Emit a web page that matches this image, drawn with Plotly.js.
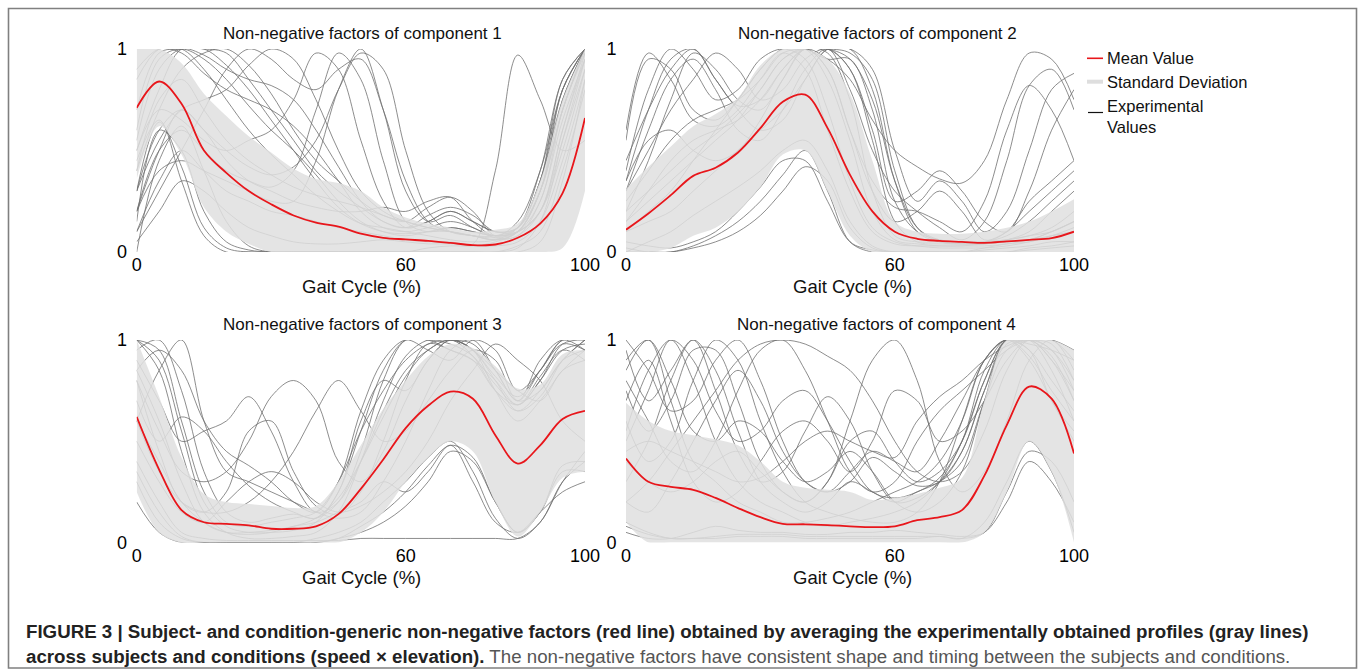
<!DOCTYPE html>
<html>
<head>
<meta charset="utf-8">
<script src="https://cdn.plot.ly/plotly-3.0.1.min.js"></script>
<style>
html,body{margin:0;padding:0;background:#fff;}
#chart{width:1360px;height:672px;}
</style>
</head>
<body>
<div id="chart"></div>
<script>
// ---------------- DATA ----------------
const gaitX = [0,5,10,15,20,25,30,35,40,45,50,55,60,65,70,75,80,85,90,95,100];
const xTicks = [0,60,100];
const yTicks = [0,1];
const panelTitles = ["Non-negative factors of component 1","Non-negative factors of component 2","Non-negative factors of component 3","Non-negative factors of component 4"];
const xAxisTitle = "Gait Cycle (%)";
const legendLabels = ["Mean Value","Standard Deviation","Experimental<br>Values"];

// component 1
const c1Mean  = [0.71,0.84,0.73,0.50,0.39,0.30,0.235,0.18,0.145,0.125,0.09,0.07,0.062,0.055,0.045,0.034,0.037,0.07,0.14,0.29,0.66];
const c1Upper = [1,1,0.93,0.78,0.67,0.57,0.49,0.41,0.36,0.34,0.30,0.22,0.17,0.14,0.12,0.10,0.11,0.14,0.35,0.75,1];
const c1Lower = [0.36,0.62,0.48,0.22,0.1,0.04,0,0,0,0,0,0,0,0,0,0,0,0,0,0.02,0.3];
const c1Exp = [
 [0.30,0.64,0.42,0.12,0.02,0,0,0,0,0,0,0,0,0,0,0,0,0.02,0.15,0.55,0.95],
 [0.15,0.60,0.50,0.20,0.05,0.01,0,0,0,0,0,0,0,0,0,0,0,0,0.05,0.35,0.85],
 [0.45,0.65,0.35,0.08,0,0,0,0,0,0,0,0,0,0.02,0.03,0.03,0.05,0.1,0.3,0.7,1.0],
 [0.85,1.0,1.0,0.9,0.75,0.6,0.48,0.38,0.28,0.2,0.14,0.12,0.1,0.08,0.06,0.05,0.06,0.12,0.4,0.85,1.0],
 [0.6,0.95,1.0,0.95,0.85,0.72,0.6,0.5,0.38,0.25,0.15,0.1,0.08,0.1,0.12,0.1,0.08,0.1,0.25,0.7,0.98],
 [0.5,0.8,1.0,1.0,0.98,0.85,0.7,0.55,0.4,0.3,0.22,0.15,0.12,0.15,0.2,0.15,0.1,0.1,0.2,0.55,0.9],
 [0.4,0.7,0.9,0.98,1.0,0.92,0.78,0.6,0.45,0.35,0.25,0.18,0.15,0.12,0.1,0.08,0.07,0.1,0.3,0.75,1.0],
 [0.3,0.55,0.7,0.75,0.8,0.92,1.0,0.95,0.75,0.5,0.3,0.2,0.15,0.12,0.1,0.08,0.08,0.12,0.35,0.8,1.0],
 [0.2,0.5,0.6,0.5,0.4,0.35,0.32,0.4,0.7,0.98,0.85,0.45,0.15,0.1,0.12,0.1,0.08,0.1,0.2,0.5,0.9],
 [0.2,0.4,0.45,0.4,0.35,0.3,0.25,0.25,0.45,0.8,1.0,0.7,0.3,0.15,0.18,0.12,0.08,0.1,0.2,0.6,0.95],
 [0.5,0.7,0.65,0.55,0.5,0.55,0.6,0.75,0.98,0.9,0.55,0.25,0.12,0.15,0.2,0.15,0.1,0.12,0.3,0.7,1.0],
 [0.2,0.5,0.7,0.6,0.45,0.35,0.3,0.25,0.22,0.2,0.2,0.22,0.2,0.25,0.27,0.15,0.08,0.15,0.4,0.8,1.0],
 [0.1,0.35,0.5,0.4,0.3,0.25,0.2,0.18,0.15,0.12,0.1,0.08,0.06,0.05,0.05,0.04,0.4,0.97,0.75,0.5,0.55],
 [0.1,0.3,0.5,0.7,0.9,1.0,0.95,0.85,0.8,0.9,0.95,0.7,0.35,0.15,0.1,0.08,0.06,0.08,0.2,0.6,0.98],
 [0.05,0.2,0.35,0.3,0.2,0.12,0.08,0.05,0.04,0.04,0.05,0.06,0.05,0.04,0.04,0.03,0.03,0.05,0.15,0.45,0.85],
 [0.0,0.45,0.62,0.4,0.15,0.03,0,0,0,0,0,0,0,0,0,0,0,0.03,0.1,0.4,0.8],
 [0.7,0.98,1.0,1.0,0.92,0.8,0.65,0.5,0.35,0.22,0.14,0.1,0.09,0.1,0.1,0.08,0.06,0.1,0.3,0.8,1.0],
 [0.9,1.0,0.98,0.88,0.8,0.75,0.7,0.62,0.5,0.35,0.2,0.12,0.1,0.12,0.15,0.12,0.07,0.08,0.25,0.65,0.95],
 [0.55,0.9,1.0,0.97,0.9,0.85,0.82,0.75,0.6,0.42,0.25,0.15,0.12,0.18,0.22,0.18,0.1,0.12,0.35,0.75,1.0],
 [0.3,0.6,0.7,0.6,0.5,0.42,0.38,0.42,0.55,0.8,0.98,0.9,0.5,0.2,0.1,0.08,0.06,0.1,0.3,0.7,1.0],
 [0.4,0.75,0.85,0.7,0.55,0.45,0.38,0.32,0.28,0.25,0.22,0.18,0.15,0.22,0.27,0.2,0.08,0.12,0.35,0.85,1.0]
];

// component 2
const c2Mean  = [0.11,0.19,0.28,0.375,0.415,0.49,0.61,0.74,0.775,0.61,0.38,0.2,0.1,0.065,0.055,0.05,0.045,0.052,0.06,0.068,0.10];
const c2Upper = [0.31,0.42,0.52,0.62,0.68,0.76,0.92,1,1,0.95,0.78,0.45,0.15,0.1,0.09,0.09,0.1,0.12,0.15,0.2,0.26];
const c2Lower = [0,0,0.02,0.08,0.12,0.2,0.32,0.48,0.5,0.3,0.08,0,0,0,0,0,0,0,0,0,0];
const c2Exp = [
 [0.4,0.8,1.0,0.9,0.75,0.8,0.95,1.0,0.95,0.7,0.35,0.12,0.05,0.03,0.02,0.02,0.02,0.03,0.05,0.08,0.12],
 [0.55,0.95,0.9,0.7,0.65,0.75,0.9,1.0,1.0,0.85,0.55,0.2,0.06,0.04,0.03,0.03,0.04,0.05,0.06,0.1,0.15],
 [0.2,0.45,0.75,0.98,0.9,0.75,0.7,0.85,1.0,0.98,0.75,0.3,0.08,0.05,0.05,0.04,0.04,0.06,0.1,0.2,0.3],
 [0.25,0.4,0.55,0.65,0.7,0.75,0.85,0.98,1.0,1.0,0.9,0.55,0.15,0.05,0.04,0.04,0.05,0.08,0.15,0.25,0.35],
 [0.1,0.2,0.3,0.45,0.6,0.75,0.9,1.0,1.0,0.95,0.95,0.7,0.25,0.1,0.06,0.05,0.05,0.06,0.08,0.1,0.15],
 [0.02,0.0,0.0,0.03,0.08,0.15,0.25,0.38,0.5,0.3,0.05,0,0,0,0,0,0.01,0.02,0.03,0.05,0.05],
 [0.05,0.03,0.02,0.05,0.1,0.2,0.32,0.45,0.45,0.25,0.05,0.01,0,0,0,0,0,0,0.02,0.03,0.05],
 [0.15,0.3,0.45,0.55,0.6,0.65,0.75,0.9,1.0,0.95,0.85,0.65,0.5,0.42,0.36,0.34,0.45,0.75,0.98,0.95,0.75],
 [0.3,0.6,0.85,0.95,0.8,0.6,0.55,0.7,0.9,1.0,0.8,0.5,0.3,0.2,0.12,0.06,0.15,0.45,0.82,0.9,0.7],
 [0.1,0.15,0.2,0.3,0.4,0.5,0.6,0.7,0.85,1.0,1.0,0.9,0.5,0.25,0.35,0.25,0.1,0.2,0.5,0.8,0.88],
 [0.35,0.55,0.6,0.5,0.45,0.5,0.65,0.85,1.0,0.9,0.6,0.3,0.15,0.2,0.3,0.2,0.06,0.1,0.25,0.35,0.45],
 [0.3,0.5,0.7,0.85,0.98,0.9,0.75,0.8,0.95,1.0,0.9,0.6,0.25,0.3,0.4,0.3,0.15,0.1,0.3,0.6,0.8],
 [0.0,0.05,0.1,0.18,0.25,0.32,0.4,0.5,0.55,0.4,0.15,0.03,0.0,0.0,0.0,0.0,0.02,0.04,0.05,0.08,0.1],
 [0.45,0.7,0.9,1.0,0.85,0.7,0.6,0.65,0.85,1.0,1.0,0.8,0.35,0.1,0.05,0.04,0.05,0.1,0.2,0.3,0.4],
 [0.6,0.98,0.85,0.65,0.62,0.7,0.85,0.98,0.9,0.6,0.3,0.1,0.04,0.03,0.03,0.03,0.03,0.04,0.06,0.1,0.15],
 [0.35,0.7,0.95,1.0,0.85,0.72,0.75,0.9,1.0,1.0,0.95,0.75,0.35,0.12,0.06,0.05,0.05,0.06,0.08,0.12,0.2],
 [0,0,0,0.02,0.05,0.1,0.18,0.3,0.42,0.35,0.12,0.02,0,0,0,0,0,0,0.01,0.02,0.03],
 [0.2,0.3,0.4,0.5,0.58,0.68,0.8,0.95,1.0,1.0,0.98,0.85,0.4,0.12,0.05,0.04,0.04,0.05,0.06,0.08,0.1],
 [0.15,0.25,0.35,0.45,0.55,0.65,0.8,0.95,1.0,0.9,0.6,0.35,0.22,0.2,0.15,0.1,0.25,0.6,0.82,0.7,0.45]
];

// component 3
const c3Mean  = [0.62,0.36,0.16,0.10,0.092,0.085,0.068,0.068,0.08,0.14,0.265,0.41,0.565,0.675,0.745,0.71,0.53,0.39,0.48,0.61,0.65];
const c3Upper = [1,0.72,0.42,0.24,0.2,0.19,0.18,0.17,0.18,0.3,0.48,0.66,0.8,0.92,0.98,0.96,0.87,0.76,0.78,0.93,0.95];
const c3Lower = [0.25,0.05,0,0,0,0,0,0,0,0,0.05,0.15,0.3,0.42,0.5,0.45,0.2,0.03,0.15,0.32,0.35];
const c3Exp = [
 [1.0,0.85,0.45,0.15,0.05,0.02,0.02,0.03,0.05,0.15,0.4,0.7,0.92,1.0,1.0,0.98,0.85,0.7,0.85,1.0,1.0],
 [0.95,1.0,0.75,0.35,0.15,0.1,0.12,0.14,0.12,0.2,0.45,0.8,1.0,1.0,0.95,0.9,0.8,0.68,0.8,0.95,0.98],
 [0.6,0.85,1.0,0.6,0.35,0.3,0.25,0.2,0.15,0.12,0.15,0.3,0.5,0.75,0.95,1.0,0.85,0.7,0.9,1.0,0.95],
 [0.9,0.7,0.5,0.55,0.6,0.72,0.55,0.3,0.15,0.2,0.4,0.65,0.85,0.95,1.0,0.92,0.75,0.65,0.75,0.9,1.0],
 [0.8,0.55,0.35,0.3,0.35,0.5,0.72,0.8,0.7,0.4,0.3,0.45,0.7,0.9,1.0,0.95,0.85,0.75,0.7,0.85,0.9],
 [0.7,0.5,0.62,0.55,0.4,0.28,0.2,0.15,0.12,0.25,0.6,0.8,0.75,0.9,1.0,0.95,0.8,0.65,0.72,0.9,1.0],
 [0.3,0.1,0.02,0,0,0,0,0,0.02,0.05,0.1,0.2,0.3,0.42,0.5,0.35,0.12,0.02,0.1,0.3,0.4],
 [0.2,0.05,0,0,0,0,0,0,0,0.02,0.05,0.1,0.18,0.3,0.45,0.4,0.2,0.05,0.15,0.35,0.35],
 [1.0,0.95,0.6,0.25,0.1,0.08,0.1,0.12,0.15,0.3,0.55,0.75,0.9,0.98,1.0,0.95,0.75,0.6,0.7,0.85,0.95],
 [0.5,0.3,0.15,0.1,0.2,0.3,0.35,0.3,0.2,0.15,0.18,0.25,0.35,0.5,0.7,0.85,0.98,0.9,0.8,0.6,0.5],
 [0.4,0.2,0.05,0.02,0.01,0.01,0.01,0.01,0.01,0.01,0.02,0.02,0.02,0.02,0.02,0.02,0.02,0.02,0.1,0.3,0.45],
 [0.85,0.95,0.85,0.6,0.45,0.38,0.3,0.2,0.15,0.3,0.65,0.9,1.0,0.95,0.9,1.0,0.95,0.75,0.85,1.0,1.0],
 [0.6,0.4,0.2,0.1,0.05,0.04,0.05,0.08,0.1,0.15,0.2,0.3,0.25,0.35,0.48,0.3,0.1,0.05,0.15,0.25,0.3],
 [1.0,0.9,0.55,0.2,0.08,0.05,0.05,0.06,0.1,0.25,0.55,0.85,1.0,1.0,0.98,0.92,0.78,0.68,0.8,0.98,1.0],
 [0.85,0.6,0.3,0.1,0.05,0.05,0.06,0.08,0.12,0.22,0.4,0.62,0.82,0.95,1.0,0.95,0.82,0.72,0.85,0.98,0.95],
 [0.35,0.15,0.03,0,0,0,0,0,0,0.02,0.08,0.15,0.25,0.38,0.48,0.42,0.2,0.05,0.15,0.38,0.4],
 [0.8,0.45,0.2,0.15,0.25,0.55,0.6,0.35,0.18,0.14,0.25,0.5,0.8,0.98,0.95,0.9,0.75,0.68,0.82,0.95,0.9],
 [0.6,0.35,0.2,0.15,0.15,0.2,0.3,0.45,0.65,0.8,0.65,0.5,0.55,0.7,0.85,0.95,0.9,0.7,0.75,0.9,0.95]
];

// component 4
const c4Mean  = [0.415,0.3,0.275,0.26,0.22,0.17,0.125,0.092,0.09,0.086,0.08,0.076,0.08,0.11,0.125,0.16,0.33,0.58,0.77,0.71,0.44];
const c4Upper = [0.69,0.6,0.55,0.53,0.51,0.48,0.4,0.3,0.27,0.26,0.25,0.21,0.22,0.24,0.27,0.32,0.7,1,1,1,0.95];
const c4Lower = [0.1,0,0,0,0,0,0,0,0,0,0,0,0,0,0,0,0.05,0.25,0.5,0.35,0];
const c4Exp = [
 [0.9,1.0,0.7,0.4,0.3,0.2,0.15,0.1,0.1,0.12,0.15,0.2,0.25,0.3,0.4,0.6,0.9,1.0,0.9,0.7,0.5],
 [0.5,0.75,1.0,0.8,0.5,0.3,0.2,0.15,0.1,0.08,0.1,0.12,0.15,0.2,0.3,0.5,0.8,1.0,1.0,0.85,0.6],
 [0.3,0.5,0.8,1.0,0.85,0.55,0.3,0.2,0.15,0.2,0.3,0.25,0.2,0.25,0.3,0.4,0.7,0.95,1.0,0.9,0.7],
 [0.6,0.4,0.5,0.8,1.0,0.9,0.6,0.35,0.2,0.15,0.12,0.1,0.1,0.15,0.3,0.6,0.9,1.0,0.95,0.8,0.65],
 [0.2,0.3,0.45,0.6,0.75,0.9,0.98,1.0,0.98,0.92,0.85,0.7,0.5,0.35,0.3,0.35,0.55,0.85,1.0,0.95,0.8],
 [0.8,0.6,0.4,0.35,0.5,0.75,0.95,1.0,0.85,0.6,0.35,0.25,0.3,0.5,0.65,0.75,0.85,0.95,1.0,1.0,0.9],
 [0.4,0.3,0.25,0.3,0.4,0.45,0.35,0.25,0.2,0.3,0.6,0.9,1.0,0.8,0.4,0.25,0.35,0.6,0.9,1.0,0.85],
 [0.7,0.9,0.6,0.3,0.2,0.25,0.4,0.55,0.6,0.5,0.35,0.5,0.75,0.7,0.5,0.55,0.7,0.9,1.0,0.9,0.75],
 [0.1,0.05,0.02,0.02,0.02,0.03,0.03,0.03,0.02,0.02,0.02,0.02,0.02,0.02,0.03,0.02,0.1,0.3,0.5,0.35,0.05],
 [0.05,0.02,0.02,0.05,0.08,0.06,0.05,0.05,0.04,0.04,0.05,0.05,0.06,0.05,0.04,0.03,0.05,0.2,0.4,0.3,0.1],
 [1.0,0.85,0.65,0.7,0.9,1.0,0.8,0.5,0.3,0.25,0.35,0.45,0.4,0.35,0.5,0.7,0.9,1.0,0.95,0.7,0.55],
 [0.45,0.5,0.45,0.4,0.35,0.3,0.32,0.4,0.5,0.55,0.5,0.45,0.42,0.6,0.72,0.8,0.9,0.97,1.0,0.95,0.75],
 [0.95,0.7,0.85,1.0,0.75,0.45,0.3,0.35,0.55,0.72,0.6,0.35,0.2,0.22,0.3,0.45,0.75,1.0,1.0,0.92,0.7],
 [0.85,1.0,0.8,0.55,0.5,0.6,0.55,0.4,0.3,0.35,0.45,0.35,0.2,0.15,0.2,0.35,0.7,1.0,1.0,0.98,0.8],
 [0.75,0.55,0.7,0.95,0.95,0.7,0.4,0.25,0.2,0.3,0.5,0.55,0.4,0.3,0.35,0.5,0.8,1.0,0.98,0.95,0.9],
 [0.08,0.04,0.02,0.02,0.03,0.04,0.04,0.04,0.03,0.03,0.03,0.03,0.03,0.03,0.03,0.02,0.05,0.25,0.45,0.4,0.2],
 [0.2,0.15,0.3,0.5,0.7,0.85,0.7,0.45,0.3,0.25,0.3,0.42,0.35,0.28,0.3,0.45,0.75,0.98,1.0,1.0,0.95],
 [0.55,0.85,1.0,0.9,0.65,0.5,0.55,0.7,0.75,0.6,0.4,0.25,0.22,0.25,0.32,0.5,0.85,1.0,0.92,0.75,0.6]
];

const captionLine1 = "<b>FIGURE 3 | Subject- and condition-generic non-negative factors (red line) obtained by averaging the experimentally obtained profiles (gray lines)</b>";
const captionLine2Bold = "across subjects and conditions (speed × elevation).";
const captionLine2Rest = " The non-negative factors have consistent shape and timing between the subjects and conditions.";

// ---------------- LAYOUT HELPERS ----------------
const W = 1360, H = 672;
const px = v => v / W;
const py = v => 1 - v / H;
const FONT = "Liberation Sans, Arial, sans-serif";

const panels = [
  {mean:c1Mean, up:c1Upper, lo:c1Lower, exp:c1Exp, xa:'x',  ya:'y',  title:panelTitles[0], tx:362, ty:33,  ax:361, ay:287},
  {mean:c2Mean, up:c2Upper, lo:c2Lower, exp:c2Exp, xa:'x2', ya:'y2', title:panelTitles[1], tx:877, ty:33,  ax:852, ay:287},
  {mean:c3Mean, up:c3Upper, lo:c3Lower, exp:c3Exp, xa:'x3', ya:'y3', title:panelTitles[2], tx:362, ty:324, ax:361, ay:577},
  {mean:c4Mean, up:c4Upper, lo:c4Lower, exp:c4Exp, xa:'x4', ya:'y4', title:panelTitles[3], tx:876, ty:324, ax:852, ay:577}
];

const traces = [];
panels.forEach(p => {
  p.exp.forEach(arr => traces.push({
    x: gaitX, y: arr, xaxis: p.xa, yaxis: p.ya, mode: 'lines', type: 'scatter',
    line: {color: '#707070', width: 0.8, shape: 'spline', smoothing: 1}, showlegend: false, hoverinfo: 'skip'
  }));
  traces.push({x: gaitX, y: p.lo, xaxis: p.xa, yaxis: p.ya, mode: 'lines', type: 'scatter',
    line: {width: 0, shape: 'spline', smoothing: 1, color: 'rgba(0,0,0,0)'}, showlegend: false, hoverinfo: 'skip'});
  traces.push({x: gaitX, y: p.up, xaxis: p.xa, yaxis: p.ya, mode: 'lines', type: 'scatter', fill: 'tonexty',
    fillcolor: 'rgba(224,224,224,0.86)',
    line: {width: 0, shape: 'spline', smoothing: 1, color: 'rgba(0,0,0,0)'}, showlegend: false, hoverinfo: 'skip'});
  traces.push({x: gaitX, y: p.mean, xaxis: p.xa, yaxis: p.ya, mode: 'lines', type: 'scatter',
    line: {color: '#e8161b', width: 1.8, shape: 'spline', smoothing: 1}, showlegend: false, hoverinfo: 'skip'});
});

const xBase = {range:[0,100], tickvals:xTicks, ticktext:xTicks.map(String), showgrid:false, zeroline:false, showline:false,
  ticks:'', ticklabelstandoff:0, tickfont:{family:FONT, size:18, color:'#000'}, fixedrange:true};
const yBase = {range:[0,1], tickvals:yTicks, ticktext:yTicks.map(String), showgrid:false, zeroline:false, showline:false,
  ticks:'outside', ticklen:5, tickcolor:'rgba(0,0,0,0)', tickfont:{family:FONT, size:18, color:'#000'}, fixedrange:true};

const colL = [px(136.7), px(585)], colR = [px(626), px(1074)];
const rowT = [py(252), py(49)], rowB = [py(542.5), py(340)];

const layout = {
  width: W, height: H, margin: {l:0, r:0, t:0, b:0}, paper_bgcolor:'#fff', plot_bgcolor:'rgba(0,0,0,0)',
  showlegend: false, hovermode: false, font:{family:FONT, color:'#000'},
  xaxis:  Object.assign({}, xBase, {domain: colL, anchor:'y'}),
  yaxis:  Object.assign({}, yBase, {domain: rowT, anchor:'x'}),
  xaxis2: Object.assign({}, xBase, {domain: colR, anchor:'y2'}),
  yaxis2: Object.assign({}, yBase, {domain: rowT, anchor:'x2'}),
  xaxis3: Object.assign({}, xBase, {domain: colL, anchor:'y3'}),
  yaxis3: Object.assign({}, yBase, {domain: rowB, anchor:'x3'}),
  xaxis4: Object.assign({}, xBase, {domain: colR, anchor:'y4'}),
  yaxis4: Object.assign({}, yBase, {domain: rowB, anchor:'x4'}),
  annotations: [],
  shapes: []
};

panels.forEach(p => {
  layout.annotations.push({xref:'paper', yref:'paper', x:px(p.tx), y:py(p.ty), xanchor:'center', yanchor:'middle',
    text:p.title, showarrow:false, font:{family:FONT, size:17, color:'#111'}});
  layout.annotations.push({xref:'paper', yref:'paper', x:px(p.ax), y:py(p.ay), xanchor:'center', yanchor:'middle',
    text:xAxisTitle, showarrow:false, font:{family:FONT, size:18.5, color:'#111'}});
});

// legend (drawn manually)
const legX0 = 1087, legX1 = 1103, legTX = 1105;
layout.shapes.push({type:'line', xref:'paper', yref:'paper', x0:px(legX0), x1:px(legX1), y0:py(58.3), y1:py(58.3), line:{color:'#e8161b', width:1.6}});
layout.shapes.push({type:'line', xref:'paper', yref:'paper', x0:px(legX0), x1:px(legX1), y0:py(81.7), y1:py(81.7), line:{color:'#dedede', width:4}});
layout.shapes.push({type:'line', xref:'paper', yref:'paper', x0:px(legX0+1), x1:px(legX1), y0:py(112.5), y1:py(112.5), line:{color:'#111', width:1.2}});
layout.annotations.push({xref:'paper', yref:'paper', x:px(legTX), y:py(58.3), xanchor:'left', yanchor:'middle', text:legendLabels[0], showarrow:false, align:'left', font:{family:FONT, size:16.5, color:'#111'}});
layout.annotations.push({xref:'paper', yref:'paper', x:px(legTX), y:py(81.7), xanchor:'left', yanchor:'middle', text:legendLabels[1], showarrow:false, align:'left', font:{family:FONT, size:16.5, color:'#111'}});
layout.annotations.push({xref:'paper', yref:'paper', x:px(legTX), y:py(116), xanchor:'left', yanchor:'middle', text:legendLabels[2], showarrow:false, align:'left', font:{family:FONT, size:16.5, color:'#111'}});

// outer frame
layout.shapes.push({type:'rect', xref:'paper', yref:'paper', x0:px(8.5), x1:px(1356.5), y0:py(668), y1:py(8.5), line:{color:'#808080', width:1.6}, fillcolor:'rgba(0,0,0,0)'});

// caption
layout.annotations.push({xref:'paper', yref:'paper', x:px(24), y:py(631), xanchor:'left', yanchor:'middle', text:captionLine1, showarrow:false, align:'left', font:{family:FONT, size:18.7, color:'#222'}});
layout.annotations.push({xref:'paper', yref:'paper', x:px(24), y:py(656), xanchor:'left', yanchor:'middle',
  text:'<b>' + captionLine2Bold + '</b><span style="color:#555">' + captionLine2Rest + '</span>', showarrow:false, align:'left', font:{family:FONT, size:18.7, color:'#222'}});

Plotly.newPlot('chart', traces, layout, {staticPlot:true, displayModeBar:false});
</script>
</body>
</html>
